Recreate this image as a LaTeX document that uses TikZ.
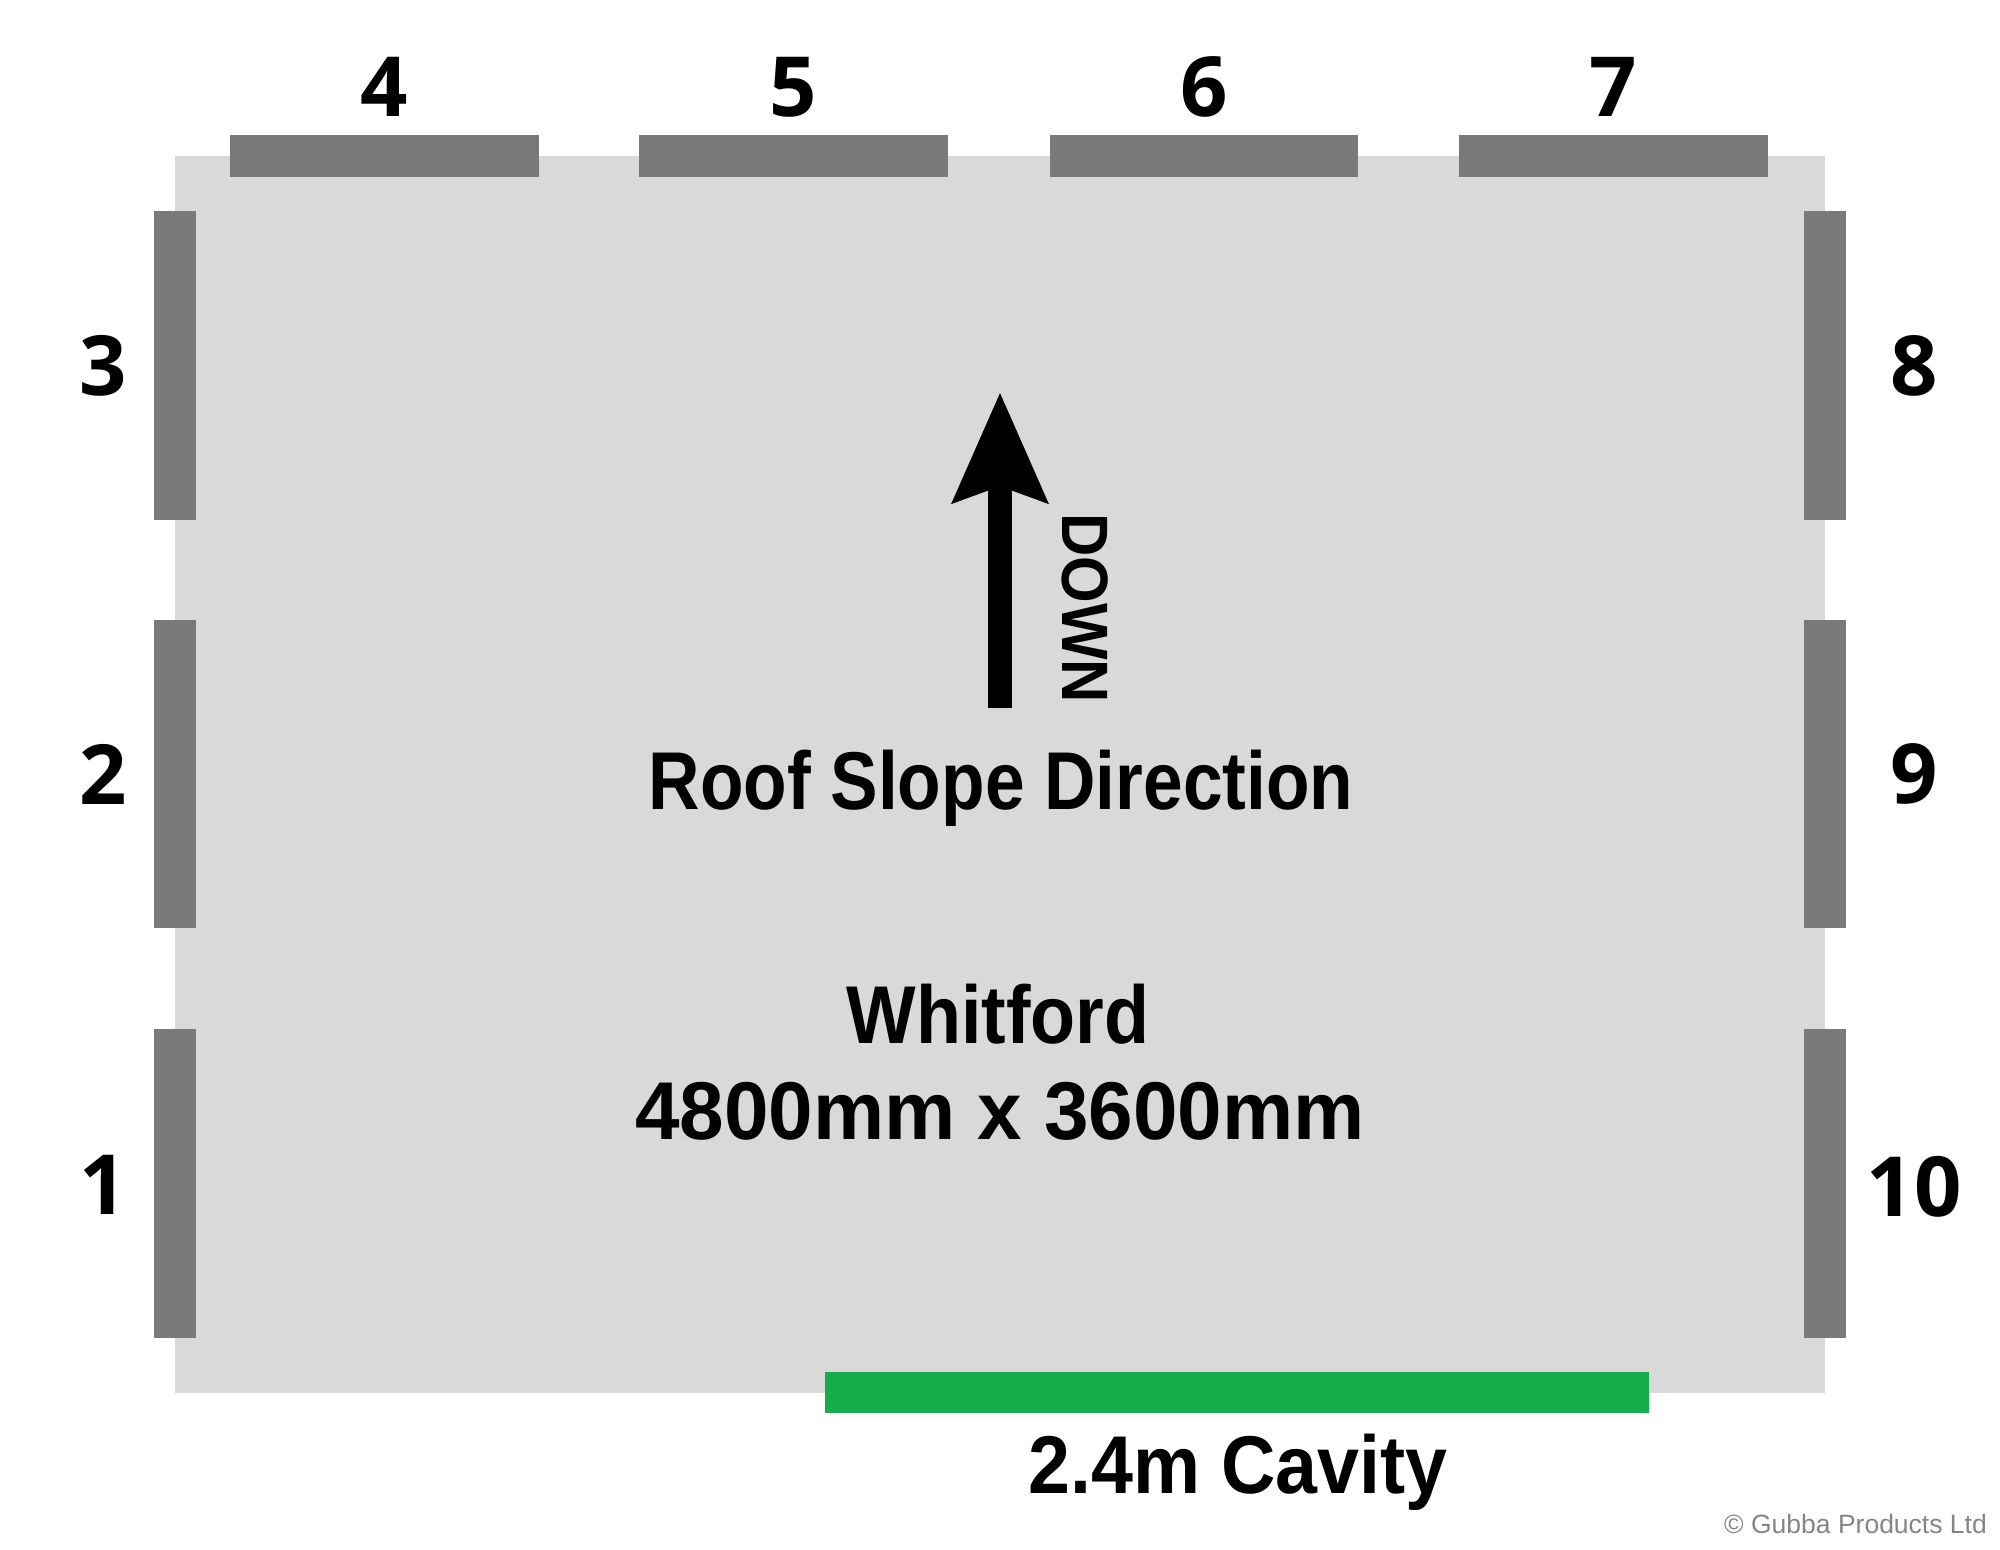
\documentclass[tikz,border=0pt]{standalone}
\usepackage{fontspec}
\usepackage{graphicx}
\setmainfont{Liberation Sans}
\newfontfamily\numfont{Open Sans}
\usetikzlibrary{arrows.meta}
\definecolor{floorgray}{HTML}{D9D9D9}
\definecolor{bargray}{HTML}{797979}
\definecolor{cavgreen}{HTML}{13AD4B}
\definecolor{copygray}{HTML}{858585}
\tikzset{
  post/.style={fill=bargray, draw=none},
  numlabel/.style={inner sep=0pt, anchor=center, font=\numfont\bfseries\fontsize{83}{90}\selectfont},
  bigtext/.style={inner sep=0pt, anchor=base, font=\bfseries\fontsize{82}{90}\selectfont},
}
\begin{document}
\begin{tikzpicture}[x=1pt,y=-1pt]
\useasboundingbox (0,0) rectangle (2000,1550);
\fill[white] (0,0) rectangle (2000,1550);
% floor
\fill[floorgray] (175,156) rectangle (1825,1393);
% top posts
\fill[post] (230,135) rectangle (539,177);
\fill[post] (639,135) rectangle (948,177);
\fill[post] (1050,135) rectangle (1358,177);
\fill[post] (1459,135) rectangle (1768,177);
% left posts
\fill[post] (154,211) rectangle (196,520);
\fill[post] (154,620) rectangle (196,928);
\fill[post] (154,1029) rectangle (196,1338);
% right posts
\fill[post] (1804,211) rectangle (1846,520);
\fill[post] (1804,620) rectangle (1846,928);
\fill[post] (1804,1029) rectangle (1846,1338);
% cavity
\fill[cavgreen] (825,1372) rectangle (1649,1413);
% numbers
\node[numlabel] (n4) at (384.5,87) {4};
\node[numlabel] (n5) at (793.5,87) {5};
\node[numlabel] (n6) at (1204,87) {6};
\node[numlabel] (n7) at (1613.5,87) {7};
\node[numlabel] (n3) at (103,366) {3};
\node[numlabel] (n2) at (103,774) {2};
\node[numlabel] (n1) at (103,1185) {1};
\node[numlabel] (n8) at (1914,366) {8};
\node[numlabel] (n9) at (1914,774) {9};
\node[numlabel] (n10) at (1914,1187) {10};
% arrow
\coordinate (arrowbase) at (1000,708);
\coordinate (arrowtip) at (1000,392);
\draw[line width=24pt, -{Stealth[length=109pt,width=92pt,inset=15pt]}] (arrowbase) -- (arrowtip);
\node[inner sep=0pt, anchor=center, rotate=-90, font=\bfseries\fontsize{65.6}{70}\selectfont] (down) at (1085.5,608) {\scalebox{0.914}[1]{DOWN}};
% texts
\node[bigtext] (roof) at (1001,809) {\scalebox{0.869}[1]{Roof Slope Direction}};
\node[bigtext] (name) at (998,1043) {\scalebox{0.899}[1]{Whitford}};
\node[bigtext] (size) at (1000,1139) {\scalebox{0.976}[1]{4800mm x 3600mm}};
\node[bigtext] (cavity) at (1238,1493) {\scalebox{0.919}[1]{2.4m Cavity}};
\node[inner sep=0pt, anchor=base east, text=copygray, font=\fontsize{26.5}{30}\selectfont] (copy) at (1987,1533) {© Gubba Products Ltd};
\end{tikzpicture}
\end{document}
